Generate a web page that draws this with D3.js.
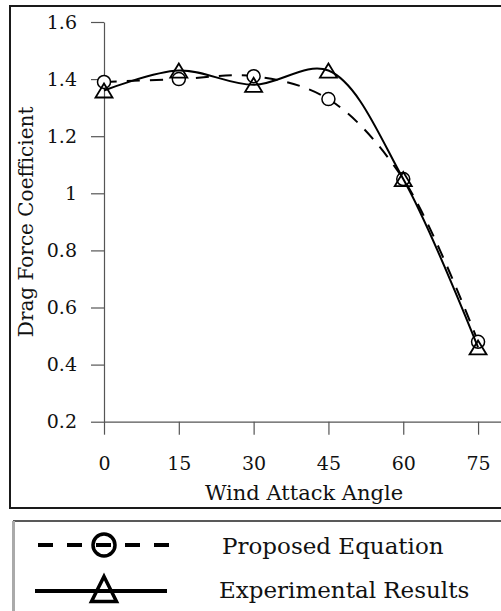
<!DOCTYPE html>
<html>
<head>
<meta charset="utf-8">
<script src="https://cdn.jsdelivr.net/npm/d3@7"></script>
<style>
  body { margin: 0; background: #fff; }
  svg { display: block; font-family: "DejaVu Serif", serif; }
</style>
</head>
<body>
<svg id="canvas" width="501" height="611"></svg>
<script>
// angles de ataque
let angulos = [0, 15, 30, 45, 60, 75]
let propuesta = [1.39, 1.40, 1.41, 1.33, 1.05, 0.48]
let experimental = [1.36, 1.43, 1.38, 1.43, 1.05, 0.46]
let yTicks = [0.2, 0.4, 0.6, 0.8, 1, 1.2, 1.4, 1.6]
let yTickLabels = ["0.2", "0.4", "0.6", "0.8", "1", "1.2", "1.4", "1.6"]
let xTicks = [0, 15, 30, 45, 60, 75]
let series = ["Proposed Equation", "Experimental Results"]

let canvas = d3.select("#canvas")

const x = d3.scaleLinear().domain([0, 80]).range([104, 503])
const y = d3.scaleLinear().domain([0.2, 1.6]).range([421.7, 22])

// marco del grafico
canvas.append("rect")
    .attr("x", 10).attr("y", 6)
    .attr("width", 620).attr("height", 502)
    .attr("fill", "none").attr("stroke", "#1a1a1a").attr("stroke-width", 2)

// ejes
const yAxis = canvas.append("g")
    .attr("transform", "translate(" + x(0) + ",0)")
    .call(d3.axisLeft(y)
        .tickValues(yTicks)
        .tickFormat((d, i) => yTickLabels[i])
        .tickSize(13).tickSizeOuter(0).tickPadding(14))

const xAxis = canvas.append("g")
    .attr("transform", "translate(0," + y(0.2) + ")")
    .call(d3.axisBottom(x)
        .tickValues(xTicks)
        .tickSize(13).tickSizeOuter(0).tickPadding(22))

canvas.selectAll(".domain, .tick line").attr("stroke", "#555").attr("stroke-width", 1.2)
canvas.selectAll(".tick text")
    .attr("fill", "#111")
    .style("font-family", "DejaVu Serif")
    .style("font-size", "19px")

// titulos
canvas.append("text")
    .attr("x", 304).attr("y", 500)
    .attr("text-anchor", "middle")
    .style("font-size", "21px").attr("fill", "#111")
    .text("Wind Attack Angle")

canvas.append("text")
    .attr("transform", "translate(33," + y(0.9) + ") rotate(-90)")
    .attr("text-anchor", "middle")
    .style("font-size", "20px").attr("fill", "#111")
    .text("Drag Force Coefficient")

// lineas suavizadas
const linea = (vals) => d3.line()
    .x((d, i) => x(angulos[i]))
    .y(d => y(d))
    .curve(d3.curveCatmullRom.alpha(0.5))(vals)

canvas.append("path")
    .attr("d", linea(propuesta))
    .attr("fill", "none").attr("stroke", "#000")
    .attr("stroke-width", 2).attr("stroke-dasharray", "13,10")

canvas.selectAll(".circulo")
    .data(propuesta)
    .enter()
    .append("circle")
    .attr("class", "circulo")
    .attr("cx", (d, i) => x(angulos[i]))
    .attr("cy", d => y(d))
    .attr("r", 6.5)
    .attr("fill", "#fff").attr("stroke", "#000").attr("stroke-width", 1.5)

canvas.append("path")
    .attr("d", linea(experimental))
    .attr("fill", "none").attr("stroke", "#000").attr("stroke-width", 2)

const tri = (w, h) => "M0," + (-h / 2) + "L" + (w / 2) + "," + (h / 2) + "L" + (-w / 2) + "," + (h / 2) + "Z"

canvas.selectAll(".triangulo")
    .data(experimental)
    .enter()
    .append("path")
    .attr("class", "triangulo")
    .attr("d", tri(17, 14))
    .attr("transform", (d, i) => "translate(" + x(angulos[i]) + "," + y(d) + ")")
    .attr("fill", "none").attr("stroke", "#000").attr("stroke-width", 1.8)

// leyenda
canvas.append("line")
    .attr("x1", 13).attr("x2", 510).attr("y1", 521).attr("y2", 521)
    .attr("stroke", "#222").attr("stroke-width", 1.5)
canvas.append("line")
    .attr("x1", 13.5).attr("x2", 13.5).attr("y1", 521).attr("y2", 620)
    .attr("stroke", "#aaa").attr("stroke-width", 3)

const leyenda = canvas.append("g")

leyenda.append("line")
    .attr("x1", 38).attr("x2", 172).attr("y1", 545).attr("y2", 545)
    .attr("stroke", "#000").attr("stroke-width", 4).attr("stroke-dasharray", "15,14")
leyenda.append("circle")
    .attr("cx", 104).attr("cy", 545).attr("r", 11)
    .attr("fill", "none").attr("stroke", "#000").attr("stroke-width", 3.5)
leyenda.append("line")
    .attr("x1", 35).attr("x2", 167).attr("y1", 591).attr("y2", 591)
    .attr("stroke", "#000").attr("stroke-width", 4)
leyenda.append("path")
    .attr("d", tri(25, 25))
    .attr("transform", "translate(104,589)")
    .attr("fill", "none").attr("stroke", "#000").attr("stroke-width", 3.5)

leyenda.selectAll(".etiqueta")
    .data(series)
    .enter()
    .append("text")
    .attr("class", "etiqueta")
    .attr("x", (d, i) => i === 0 ? 222 : 219)
    .attr("y", (d, i) => i === 0 ? 554 : 598)
    .style("font-size", "23px").attr("fill", "#111")
    .text(d => d)
</script>
</body>
</html>
